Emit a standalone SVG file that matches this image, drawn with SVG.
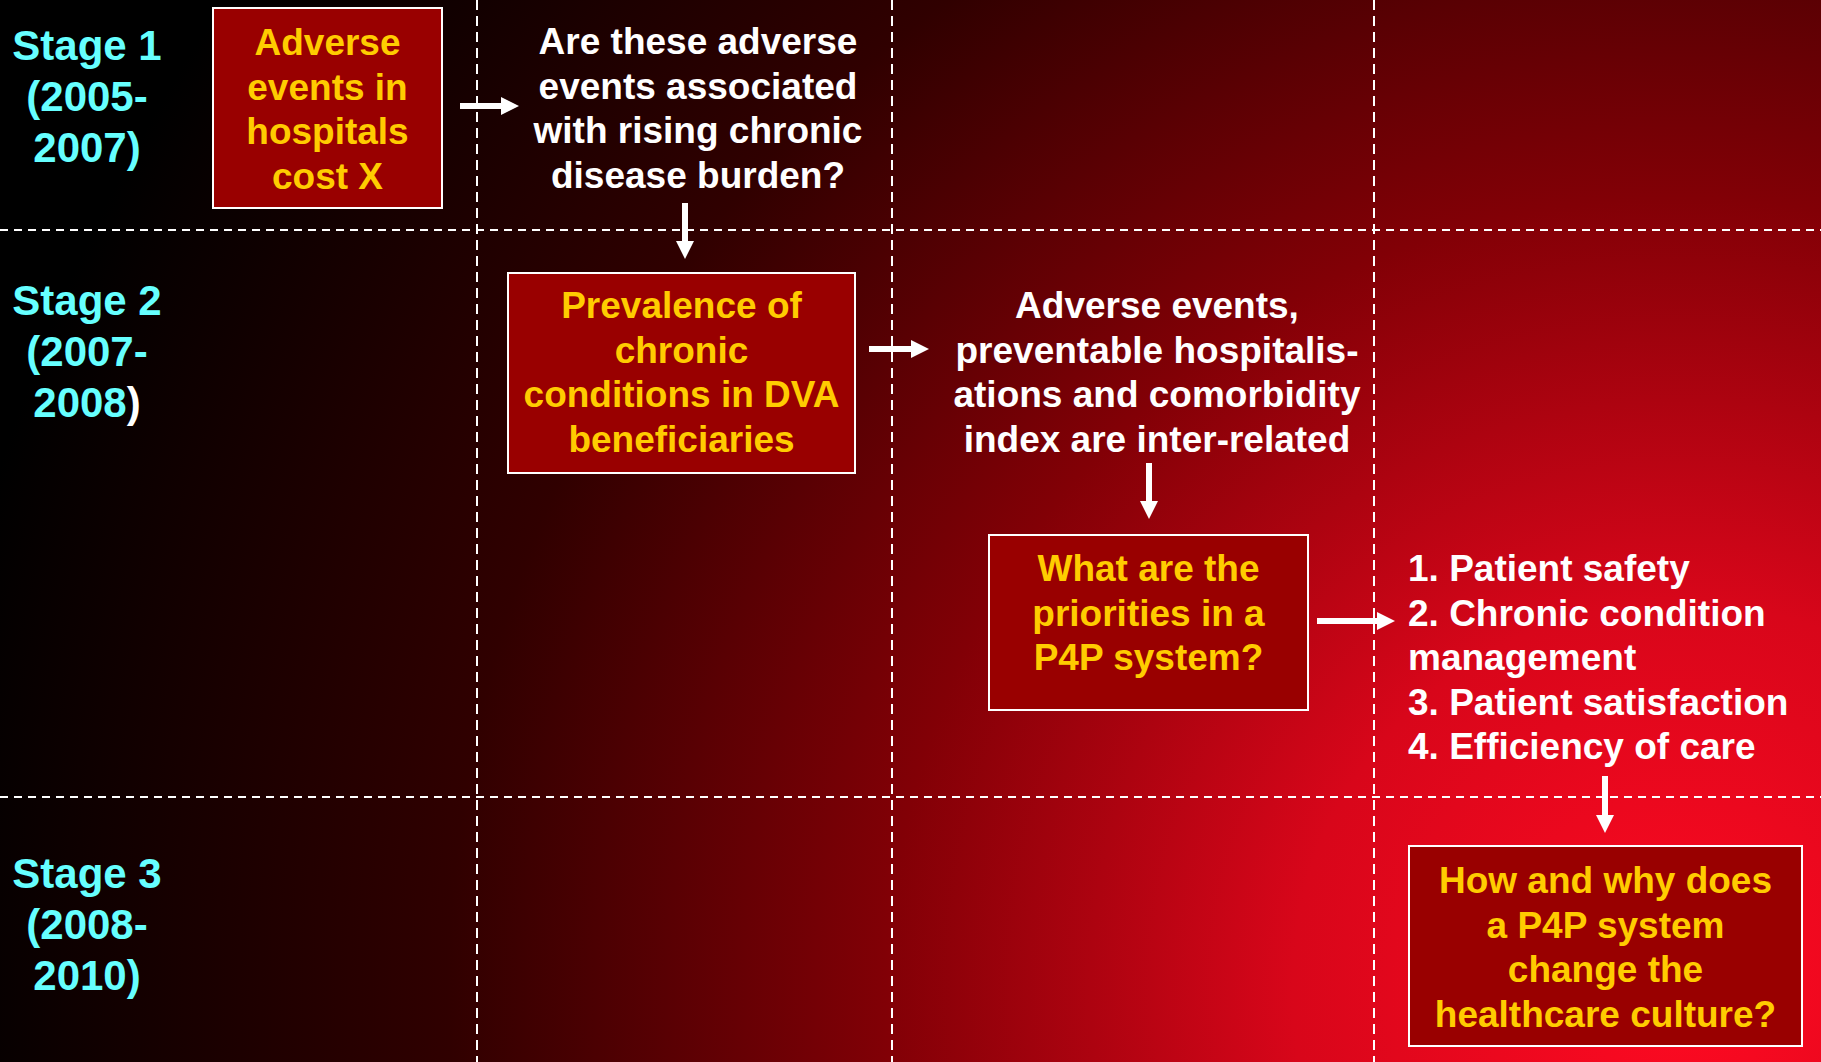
<svg xmlns="http://www.w3.org/2000/svg" width="1821" height="1062" viewBox="0 0 1821 1062">
<defs>
<radialGradient id="bg" gradientUnits="userSpaceOnUse" cx="1680" cy="990" r="1760">
<stop offset="0" stop-color="#ff0a22"/>
<stop offset="0.22" stop-color="#d8061a"/>
<stop offset="0.45" stop-color="#820006"/>
<stop offset="0.7" stop-color="#300000"/>
<stop offset="1" stop-color="#000000"/>
</radialGradient>
<marker id="ah" viewBox="0 0 18 18" refX="1" refY="9" markerWidth="18" markerHeight="18" markerUnits="userSpaceOnUse" orient="auto">
<path d="M0,0 L18,9 L0,18 z" fill="#ffffff"/>
</marker>
<style>
text{font-family:"Liberation Sans",Arial,sans-serif;font-weight:bold;}
.stage{font-size:42px;fill:#66ffff;text-anchor:middle;}
.q{font-size:37px;fill:#ffffff;text-anchor:middle;}
.y{font-size:37px;fill:#ffcc00;text-anchor:middle;}
.list{font-size:37px;fill:#ffffff;}
.box{fill:#990000;stroke:#ffffff;stroke-width:2;}
.hd{stroke:#ffffff;stroke-width:2;stroke-dasharray:8 6;}
.vd{stroke:#ffffff;stroke-width:2;stroke-dasharray:10 6;}
.arr{stroke:#ffffff;stroke-width:6;marker-end:url(#ah);}
</style>
</defs>
<rect x="0" y="0" width="1821" height="1062" fill="url(#bg)"/>
<g id="grid">
<line class="hd" x1="0" y1="230" x2="1821" y2="230"/>
<line class="hd" x1="0" y1="797" x2="1821" y2="797"/>
<line class="vd" x1="477" y1="0" x2="477" y2="1062"/>
<line class="vd" x1="892" y1="0" x2="892" y2="1062"/>
<line class="vd" x1="1374" y1="0" x2="1374" y2="1062"/>
</g>
<g id="stage1">
<text class="stage" x="87" y="60">Stage 1</text>
<text class="stage" x="87" y="111">(2005-</text>
<text class="stage" x="87" y="162">2007)</text>
</g>
<g id="stage2">
<text class="stage" x="87" y="315">Stage 2</text>
<text class="stage" x="87" y="366">(2007-</text>
<text class="stage" x="87" y="417">2008<tspan fill="#ffffff">)</tspan></text>
</g>
<g id="stage3">
<text class="stage" x="87" y="888">Stage 3</text>
<text class="stage" x="87" y="939">(2008-</text>
<text class="stage" x="87" y="990">2010)</text>
</g>
<g id="n1">
<rect class="box" x="213" y="8" width="229" height="200"/>
<text class="y" x="327.5" y="55">Adverse</text>
<text class="y" x="327.5" y="99.5">events in</text>
<text class="y" x="327.5" y="144">hospitals</text>
<text class="y" x="327.5" y="188.5">cost X</text>
</g>
<g id="n2">
<text class="q" x="698" y="54">Are these adverse</text>
<text class="q" x="698" y="98.5">events associated</text>
<text class="q" x="698" y="143">with rising chronic</text>
<text class="q" x="698" y="187.5">disease burden?</text>
</g>
<g id="n3">
<rect class="box" x="508" y="273" width="347" height="200"/>
<text class="y" x="681.5" y="318">Prevalence of</text>
<text class="y" x="681.5" y="362.5">chronic</text>
<text class="y" x="681.5" y="407">conditions in DVA</text>
<text class="y" x="681.5" y="451.5">beneficiaries</text>
</g>
<g id="n4">
<text class="q" x="1157" y="318">Adverse events,</text>
<text class="q" x="1157" y="362.5">preventable hospitalis-</text>
<text class="q" x="1157" y="407">ations and comorbidity</text>
<text class="q" x="1157" y="451.5">index are inter-related</text>
</g>
<g id="n5">
<rect class="box" x="989" y="535" width="319" height="175"/>
<text class="y" x="1148.5" y="581">What are the</text>
<text class="y" x="1148.5" y="625.5">priorities in a</text>
<text class="y" x="1148.5" y="670">P4P system?</text>
</g>
<g id="n6">
<text class="list" x="1408" y="581">1. Patient safety</text>
<text class="list" x="1408" y="625.5">2. Chronic condition</text>
<text class="list" x="1408" y="670">management</text>
<text class="list" x="1408" y="714.5">3. Patient satisfaction</text>
<text class="list" x="1408" y="759">4. Efficiency of care</text>
</g>
<g id="n7">
<rect class="box" x="1409" y="846" width="393" height="200"/>
<text class="y" x="1605.5" y="893">How and why does</text>
<text class="y" x="1605.5" y="937.5">a P4P system</text>
<text class="y" x="1605.5" y="982">change the</text>
<text class="y" x="1605.5" y="1026.5">healthcare culture?</text>
</g>
<g id="connectors">
<line class="arr" x1="460" y1="106" x2="502" y2="106"/>
<line class="arr" x1="685" y1="203" x2="685" y2="242"/>
<line class="arr" x1="869" y1="349" x2="912" y2="349"/>
<line class="arr" x1="1149" y1="463" x2="1149" y2="502"/>
<line class="arr" x1="1317" y1="621" x2="1378" y2="621"/>
<line class="arr" x1="1605" y1="776" x2="1605" y2="816"/>
</g>
</svg>
